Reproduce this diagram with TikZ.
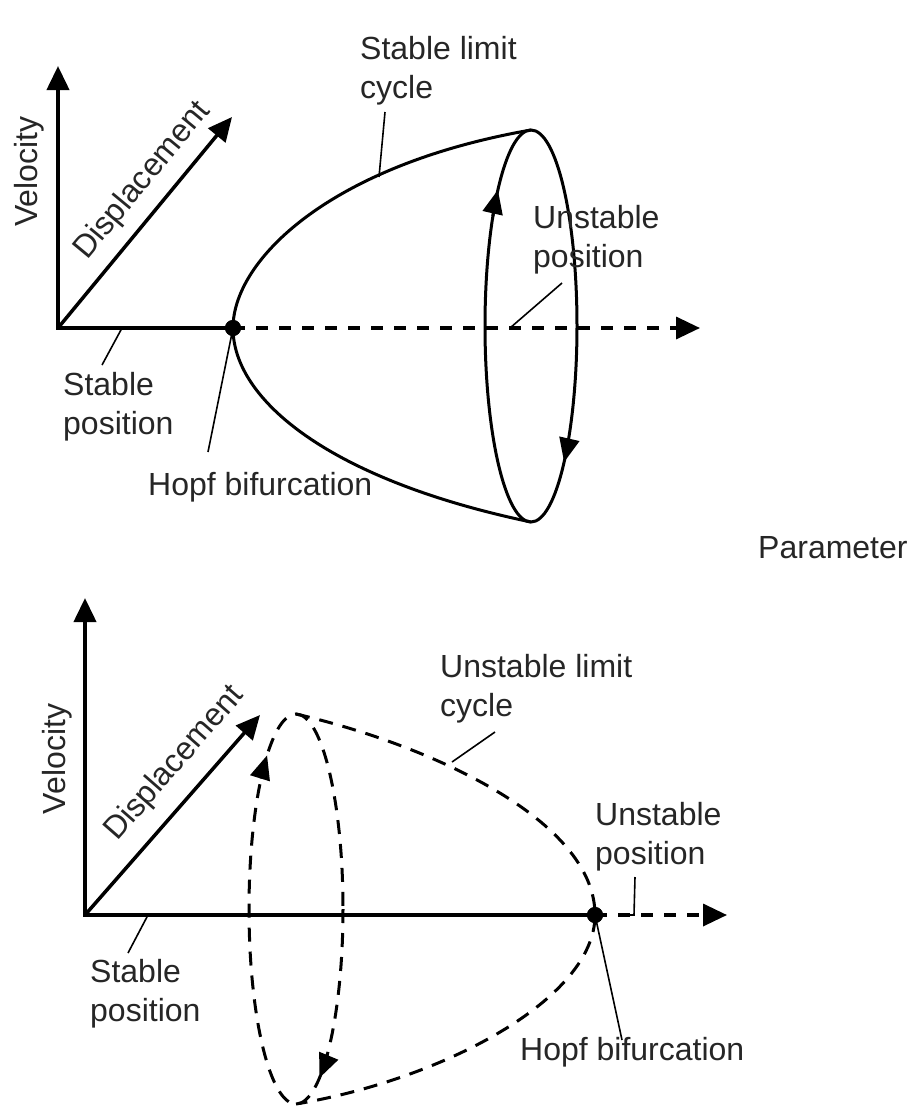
\documentclass[tikz,border=0pt]{standalone}
\usepackage{fontspec}
\setmainfont{Liberation Sans}
\usetikzlibrary{arrows.meta}
\newcommand{\twol}[2]{\begin{tabular}[t]{@{}l@{}}#1\\#2\end{tabular}}
\begin{document}
\begin{tikzpicture}[x=1pt,y=-1pt,
  lbl/.style={font=\fontsize{32}{39}\selectfont, text=black!85, inner sep=0pt, anchor=base west},
  rlbl/.style={font=\fontsize{32}{39}\selectfont, text=black!85, inner sep=0pt, anchor=base},
  tip/.style={-{Triangle[length=24pt,width=22pt]}},
  axisline/.style={line width=4pt, line join=miter, tip},
  dispaxis/.style={line width=3.5pt, tip},
  daxis/.style={line width=3.5pt, dash pattern=on 12pt off 11pt, tip},
  curve/.style={line width=3pt},
  dcurve/.style={line width=3pt, dash pattern=on 14pt off 10pt},
  ctip/.style={line width=3pt, -{Triangle[length=24pt,width=20pt]}},
  leader/.style={line width=1.6pt},
  hopfdot/.style={circle, fill=black, inner sep=0pt, minimum size=16pt}
]
\useasboundingbox (0,0) rectangle (914,1106);

% ================= TOP DIAGRAM =================
\coordinate (O1) at (58,328);
\coordinate (V1) at (58,66);
\coordinate (D1) at (232,117);
\coordinate (A1) at (700,328);
\coordinate (E1) at (531,326);
\coordinate (T1) at (531,130);
\coordinate (B1) at (531,522);
\node[hopfdot] (hopf1) at (233,328) {};

\draw[axisline] (hopf1.center) -- (O1) -- (V1);
\draw[dispaxis] (O1) -- (D1);
\draw[daxis] (hopf1.center) -- (A1);

\draw[curve] (T1) .. controls (330,165) and (233,260) .. (hopf1.center)
  .. controls (233,400) and (330,480) .. (B1);
\draw[curve] (E1) ellipse[x radius=46, y radius=196];
\draw[ctip] ([shift={(214:46 and 196)}]E1) arc[start angle=214, end angle=224, x radius=46, y radius=196];
\draw[ctip] ([shift={(35:46 and 196)}]E1) arc[start angle=35, end angle=44, x radius=46, y radius=196];
\node[hopfdot] at (hopf1) {};

\node[rlbl, rotate=90] (vel1) at (37,171.5) {Velocity};
\node[rlbl, rotate=50.4] (disp1) at (149,186) {Displacement};
\node[lbl] (slc) at (360,59) {\twol{Stable limit}{cycle}};
\node[lbl] (up1) at (533,228) {\twol{Unstable}{position}};
\node[lbl] (sp1) at (63,395) {\twol{Stable}{position}};
\node[lbl] (hb1) at (148,495) {Hopf bifurcation};
\node[lbl] (param) at (758,558) {Parameter};

\coordinate (slcA) at (385,112);
\coordinate (slcB) at (379,177);
\draw[leader] (slcA) -- (slcB);
\coordinate (up1A) at (562,283);
\coordinate (up1B) at (510,328);
\draw[leader] (up1A) -- (up1B);
\coordinate (sp1A) at (122,328);
\coordinate (sp1B) at (102,365);
\draw[leader] (sp1A) -- (sp1B);
\coordinate (hb1B) at (208,452);
\draw[leader] (hopf1.center) -- (hb1B);

% ================= BOTTOM DIAGRAM =================
\coordinate (O2) at (85,915);
\coordinate (V2) at (85,598);
\coordinate (D2) at (260,715);
\coordinate (A2) at (727,915);
\coordinate (E2) at (296,909);
\coordinate (T2) at (296,714);
\coordinate (B2) at (296,1104);
\node[hopfdot] (hopf2) at (595,915) {};

\draw[dcurve] (T2) .. controls (430,745) and (595,820) .. (hopf2.center)
  .. controls (595,1000) and (440,1080) .. (B2);
\draw[dcurve] (E2) ellipse[x radius=47, y radius=195];
\draw[ctip] ([shift={(222:47 and 195)}]E2) arc[start angle=222, end angle=232, x radius=47, y radius=195];
\draw[ctip] ([shift={(48:47 and 195)}]E2) arc[start angle=48, end angle=60, x radius=47, y radius=195];

\draw[axisline] (hopf2.center) -- (O2) -- (V2);
\draw[dispaxis] (O2) -- (D2);
\draw[daxis] (hopf2.center) -- (A2);
\node[hopfdot] at (hopf2) {};

\node[rlbl, rotate=90] (vel2) at (65,759) {Velocity};
\node[rlbl, rotate=48.8] (disp2) at (181,769) {Displacement};
\node[lbl] (ulc) at (440,677) {\twol{Unstable limit}{cycle}};
\node[lbl] (up2) at (595,825) {\twol{Unstable}{position}};
\node[lbl] (sp2) at (90,982) {\twol{Stable}{position}};
\node[lbl] (hb2) at (520,1060) {Hopf bifurcation};

\coordinate (ulcA) at (495,732);
\coordinate (ulcB) at (452,762);
\draw[leader] (ulcA) -- (ulcB);
\coordinate (up2A) at (635,877);
\coordinate (up2B) at (634,915);
\coordinate (up2C) at (620,915);
\draw[leader] (up2A) -- (up2B) -- (up2C);
\coordinate (sp2A) at (148,915);
\coordinate (sp2B) at (128,953);
\draw[leader] (sp2A) -- (sp2B);
\coordinate (hb2B) at (622,1040);
\draw[leader] (hopf2.center) -- (hb2B);
\end{tikzpicture}
\end{document}
